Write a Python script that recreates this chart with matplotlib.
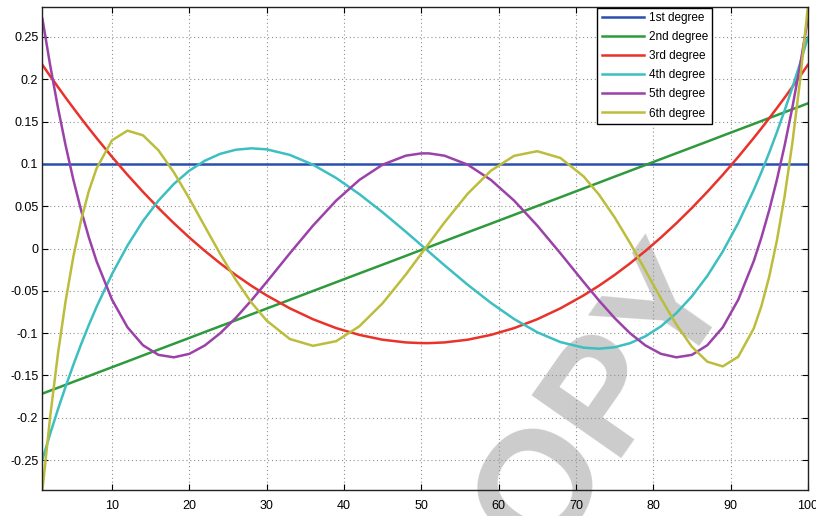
import numpy as np
import matplotlib.pyplot as plt
from matplotlib.ticker import FuncFormatter

plt.rcParams['font.family'] = ['Liberation Sans', 'DejaVu Sans']
plt.rcParams['axes.unicode_minus'] = False

# sample positions (1..100)
x = [1, 2, 3, 4, 5, 6, 7, 8, 10, 12, 14, 16, 18, 20, 22, 24, 26, 28, 30, 33, 36, 39, 42, 45, 48, 50,
     51, 53, 56, 59, 62, 65, 68, 71, 73, 75, 77, 79, 81, 83, 85, 87, 89, 91, 93, 94, 95, 96, 97, 98, 99, 100]

deg1_x = [1, 100]
deg1 = [0.1, 0.1]

deg2 = [-0.1715, -0.1680, -0.1646, -0.1611, -0.1576, -0.1542, -0.1507, -0.1472, -0.1403, -0.1334,
        -0.1264, -0.1195, -0.1126, -0.1057, -0.0987, -0.0918, -0.0849, -0.0779, -0.0710, -0.0606,
        -0.0502, -0.0398, -0.0294, -0.0191, -0.0087, -0.0017,
        0.0017, 0.0087, 0.0191, 0.0294, 0.0398, 0.0502, 0.0606, 0.0710, 0.0779, 0.0849,
        0.0918, 0.0987, 0.1057, 0.1126, 0.1195, 0.1264, 0.1334, 0.1403, 0.1472, 0.1507,
        0.1542, 0.1576, 0.1611, 0.1646, 0.1680, 0.1715]

deg3 = [0.2170, 0.2038, 0.1910, 0.1783, 0.1660, 0.1539, 0.1421, 0.1306, 0.1083, 0.0871,
        0.0670, 0.0479, 0.0299, 0.0130, -0.0028, -0.0176, -0.0313, -0.0439, -0.0554, -0.0707,
        -0.0836, -0.0941, -0.1021, -0.1078, -0.1110, -0.1118,
        -0.1118, -0.1110, -0.1078, -0.1021, -0.0941, -0.0836, -0.0707, -0.0554, -0.0439, -0.0313,
        -0.0176, -0.0028, 0.0130, 0.0299, 0.0479, 0.0670, 0.0871, 0.1083, 0.1306, 0.1421,
        0.1539, 0.1660, 0.1783, 0.1910, 0.2038, 0.2170]

deg4 = [-0.2492, -0.2190, -0.1903, -0.1632, -0.1375, -0.1132, -0.0904, -0.0690, -0.0302, 0.0035,
        0.0324, 0.0565, 0.0763, 0.0920, 0.1037, 0.1119, 0.1167, 0.1184, 0.1172, 0.1106,
        0.0990, 0.0833, 0.0642, 0.0428, 0.0198, 0.0040,
        -0.0040, -0.0198, -0.0428, -0.0642, -0.0833, -0.0990, -0.1106, -0.1172, -0.1184, -0.1167,
        -0.1119, -0.1037, -0.0920, -0.0763, -0.0565, -0.0324, -0.0035, 0.0302, 0.0690, 0.0904,
        0.1132, 0.1375, 0.1632, 0.1903, 0.2190, 0.2492]

deg5 = [0.2714, 0.2166, 0.1668, 0.1218, 0.0813, 0.0452, 0.0132, -0.0150, -0.0605, -0.0931,
        -0.1143, -0.1257, -0.1286, -0.1245, -0.1146, -0.1001, -0.0821, -0.0616, -0.0396, -0.0057,
        0.0271, 0.0567, 0.0811, 0.0991, 0.1097, 0.1124,
        0.1124, 0.1097, 0.0991, 0.0811, 0.0567, 0.0271, -0.0057, -0.0396, -0.0616, -0.0821,
        -0.1001, -0.1146, -0.1245, -0.1286, -0.1257, -0.1143, -0.0931, -0.0605, -0.0150, 0.0132,
        0.0452, 0.0813, 0.1218, 0.1668, 0.2166, 0.2714]

deg6 = [-0.2854, -0.1989, -0.1248, -0.0620, -0.0096, 0.0334, 0.0679, 0.0946, 0.1279, 0.1393,
        0.1338, 0.1161, 0.0900, 0.0591, 0.0261, -0.0066, -0.0369, -0.0635, -0.0852, -0.1070,
        -0.1150, -0.1095, -0.0919, -0.0647, -0.0308, -0.0062,
        0.0062, 0.0308, 0.0647, 0.0919, 0.1095, 0.1150, 0.1070, 0.0852, 0.0635, 0.0369,
        0.0066, -0.0261, -0.0591, -0.0900, -0.1161, -0.1338, -0.1393, -0.1279, -0.0946, -0.0679,
        -0.0334, 0.0096, 0.0620, 0.1248, 0.1989, 0.2854]

labels = ['1st degree', '2nd degree', '3rd degree', '4th degree', '5th degree', '6th degree']
colors = ['#2a4fb0', '#2e9a3c', '#e8322a', '#3dbfc2', '#9a42a8', '#bcbd3c']

fig = plt.figure(figsize=(8.16, 5.16), dpi=100)
fig.patch.set_facecolor('white')
ax = fig.add_axes([0.052, 0.0504, 0.938, 0.936])
ax.set_facecolor('none')

# watermark behind the curves
fig.text(0.701, 0.132, 'COPY', fontsize=114, fontweight='bold', color='#cccccc', rotation=55,
         rotation_mode='anchor', ha='center', va='center', zorder=-1)

ax.plot(deg1_x, deg1, color=colors[0], lw=1.8, label=labels[0])
ax.plot(x, deg2, color=colors[1], lw=1.8, label=labels[1])
ax.plot(x, deg3, color=colors[2], lw=1.8, label=labels[2])
ax.plot(x, deg4, color=colors[3], lw=1.8, label=labels[3])
ax.plot(x, deg5, color=colors[4], lw=1.8, label=labels[4])
ax.plot(x, deg6, color=colors[5], lw=1.8, label=labels[5])

ax.set_xlim(1, 100)
ax.set_ylim(-0.2854, 0.2854)
ax.set_xticks(np.arange(10, 101, 10))
ax.set_yticks(np.arange(-0.25, 0.2501, 0.05))
ax.yaxis.set_major_formatter(FuncFormatter(lambda v, p: '%g' % (round(v, 2) + 0.0)))
ax.grid(True, color='#909090', linestyle=(0, (1, 2.5)), linewidth=0.8)
ax.tick_params(direction='in', top=True, right=True, length=4, labelsize=9, pad=3)
ax.tick_params(axis='x', pad=7)
for s in ax.spines.values():
    s.set_linewidth(1.0)
    s.set_color('#222222')

leg = ax.legend(loc='upper right', bbox_to_anchor=(0.875, 0.998), borderaxespad=0,
                fontsize=8.5, handlelength=3.6, labelspacing=0.6, handletextpad=0.4,
                fancybox=False, framealpha=1, edgecolor='black', borderpad=0.35)
leg.get_frame().set_linewidth(1.0)

plt.savefig('out.png', dpi=100)
